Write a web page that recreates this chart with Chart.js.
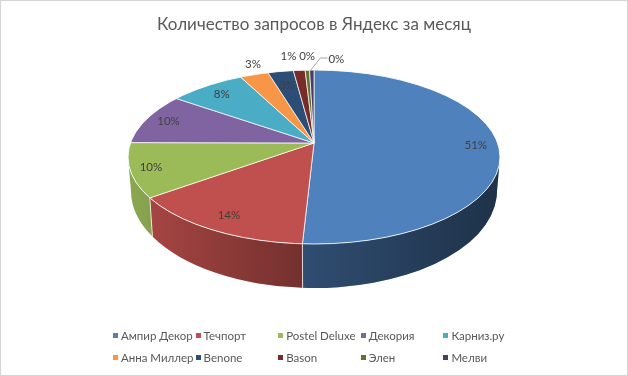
<!DOCTYPE html>
<html lang="en">
<head>
    <meta charset="UTF-8">
    <title>Количество запросов в Яндекс за месяц</title>
    <script src="https://cdn.jsdelivr.net/npm/chart.js"></script>
    <style>
        body { margin: 0; background: #fff; font-family: Lato, sans-serif; }
        #wrap { position: relative; width: 628px; height: 376px; overflow: hidden; }
        #frame { position: absolute; inset: 0; box-sizing: border-box; border: 1px solid #d4d4d4; pointer-events: none; }
        #legend { position: absolute; left: 113px; top: 324px; display: grid; grid-template-columns: repeat(5, 82.6px); grid-auto-rows: 22.5px; font-size: 11.5px; color: #595959; }
        #legend div { display: flex; align-items: center; white-space: nowrap; }
        #legend i { width: 5px; height: 5px; margin-right: 3px; flex: none; }
    </style>
</head>
<body>
<div id="wrap">
    <canvas id="pie" width="628" height="376"></canvas>
    <div id="legend"></div>
    <div id="frame"></div>
</div>
<script>
const title = 'Количество запросов в Яндекс за месяц';
const categories = ['Ампир Декор', 'Течпорт', 'Postel Deluxe', 'Декория', 'Карниз.ру', 'Анна Миллер', 'Benone', 'Bason', 'Элен', 'Мелви'];
const shares = [50.6, 14.2, 9.9, 9.5, 7.7, 2.9, 2.6, 1.2, 0.45, 0.45];
const colors = ['#4f81bd', '#c0504d', '#9bbb59', '#8064a2', '#4bacc6', '#f79646', '#2c4d75', '#772c2a', '#5f7530', '#4d3b62'];

// where the percent text sits along each slice, then a nudge for the crowded ones
const labelRadius = [0.87, 0.95, 0.92, 0.82, 0.75, 0.98, 0.68, 1.0, 1.0, 1.0];
const labelNudge = [[0, 0], [0, 0], [0, 0], [0, 0], [0, 0], [8, 0], [0, 0], [-8, 0], [1, 0], [25, 3]];

// the tilted pie: top face, bottom edge, and the off-centre point the slices meet at
const topFace = { x: 314, y: 157, rx: 186, ry: 87 };
const bottomFace = { x: 314, y: 191, rx: 183, ry: 97 };
const apexY = 143;

function rimAngle(a) {
    const dy = (apexY - topFace.y) / topFace.ry;
    const s = Math.sin(a), c = Math.cos(a);
    const t = -dy * s + Math.sqrt(dy * dy * s * s - dy * dy + 1);
    let phi = Math.atan2(t * s + dy, t * c);
    if (phi < -Math.PI / 2 - 0.01) phi += Math.PI * 2;
    return phi;
}

const tiltedPie = {
    id: 'tiltedPie',
    beforeDatasetsDraw(chart) {
        const ctx = chart.ctx;
        const arcs = chart.getDatasetMeta(0).data;

        // side wall first, the top face goes over it
        const shade = ctx.createLinearGradient(128, 0, 500, 0);
        shade.addColorStop(0, 'rgba(0,0,0,0.10)');
        shade.addColorStop(0.47, 'rgba(0,0,0,0.40)');
        shade.addColorStop(1, 'rgba(0,0,0,0.62)');
        arcs.forEach((arc, i) => {
            const lo = Math.max(rimAngle(arc.startAngle), 0);
            const hi = Math.min(rimAngle(arc.endAngle), Math.PI);
            if (lo >= hi) return;
            ctx.beginPath();
            ctx.ellipse(topFace.x, topFace.y, topFace.rx, topFace.ry, 0, lo, hi);
            ctx.ellipse(bottomFace.x, bottomFace.y, bottomFace.rx, bottomFace.ry, 0, hi, lo, true);
            ctx.closePath();
            ctx.fillStyle = colors[i];
            ctx.fill();
            ctx.fillStyle = shade;
            ctx.fill();
            ctx.strokeStyle = 'rgba(255,255,255,0.75)';
            ctx.lineWidth = 1;
            ctx.beginPath();
            ctx.moveTo(topFace.x + topFace.rx * Math.cos(lo), topFace.y + topFace.ry * Math.sin(lo));
            ctx.lineTo(bottomFace.x + bottomFace.rx * Math.cos(lo), bottomFace.y + bottomFace.ry * Math.sin(lo));
            if (lo > 0) ctx.stroke();
        });

        // squash the round pie into the top face
        const arc = arcs[0];
        ctx.save();
        ctx.beginPath();
        ctx.ellipse(topFace.x, topFace.y, topFace.rx, topFace.ry, 0, 0, Math.PI * 2);
        ctx.clip();
        ctx.translate(topFace.x, apexY);
        ctx.scale(1, topFace.ry / topFace.rx);
        ctx.translate(-arc.x, -arc.y);
    },
    afterDatasetsDraw(chart) {
        const ctx = chart.ctx;
        ctx.restore();

        ctx.beginPath();
        ctx.ellipse(topFace.x, topFace.y, topFace.rx, topFace.ry, 0, 0, Math.PI * 2);
        ctx.strokeStyle = 'rgba(255,255,255,0.85)';
        ctx.lineWidth = 1;
        ctx.stroke();

        const total = shares.reduce((a, b) => a + b, 0);
        ctx.font = '11.5px Lato, sans-serif';
        ctx.fillStyle = '#404040';
        ctx.textAlign = 'center';
        ctx.textBaseline = 'middle';
        chart.getDatasetMeta(0).data.forEach((arc, i) => {
            const mid = (arc.startAngle + arc.endAngle) / 2;
            const x = topFace.x + labelRadius[i] * topFace.rx * Math.cos(mid) + labelNudge[i][0];
            const y = apexY + labelRadius[i] * topFace.ry * Math.sin(mid) + labelNudge[i][1];
            ctx.fillText(Math.round(shares[i] / total * 100) + '%', x, y);

            if (i === shares.length - 1) {
                // leader line of the last label
                const phi = rimAngle(mid);
                ctx.beginPath();
                ctx.moveTo(topFace.x + topFace.rx * Math.cos(phi) - 1, topFace.y + topFace.ry * Math.sin(phi));
                ctx.lineTo(x - 16, y - 1);
                ctx.lineTo(x - 9, y - 1);
                ctx.strokeStyle = '#a6a6a6';
                ctx.stroke();
            }
        });
    }
};

new Chart(document.getElementById('pie').getContext('2d'), {
    type: 'pie',
    data: {
        labels: categories,
        datasets: [{
            data: shares,
            backgroundColor: colors,
            borderColor: '#ffffff',
            borderWidth: 1,
            radius: 230,
            clip: false
        }]
    },
    options: {
        responsive: false,
        animation: false,
        plugins: {
            legend: { display: false },
            tooltip: { enabled: false },
            title: {
                display: true,
                text: title,
                color: '#595959',
                font: { family: 'Lato, sans-serif', size: 17, weight: 'normal' },
                padding: { top: 14, bottom: 10 }
            }
        }
    },
    plugins: [tiltedPie]
});

const legend = document.getElementById('legend');
categories.forEach((name, i) => {
    const item = document.createElement('div');
    item.innerHTML = '<i style="background:' + colors[i] + '"></i>' + name;
    legend.appendChild(item);
});
</script>
</body>
</html>
